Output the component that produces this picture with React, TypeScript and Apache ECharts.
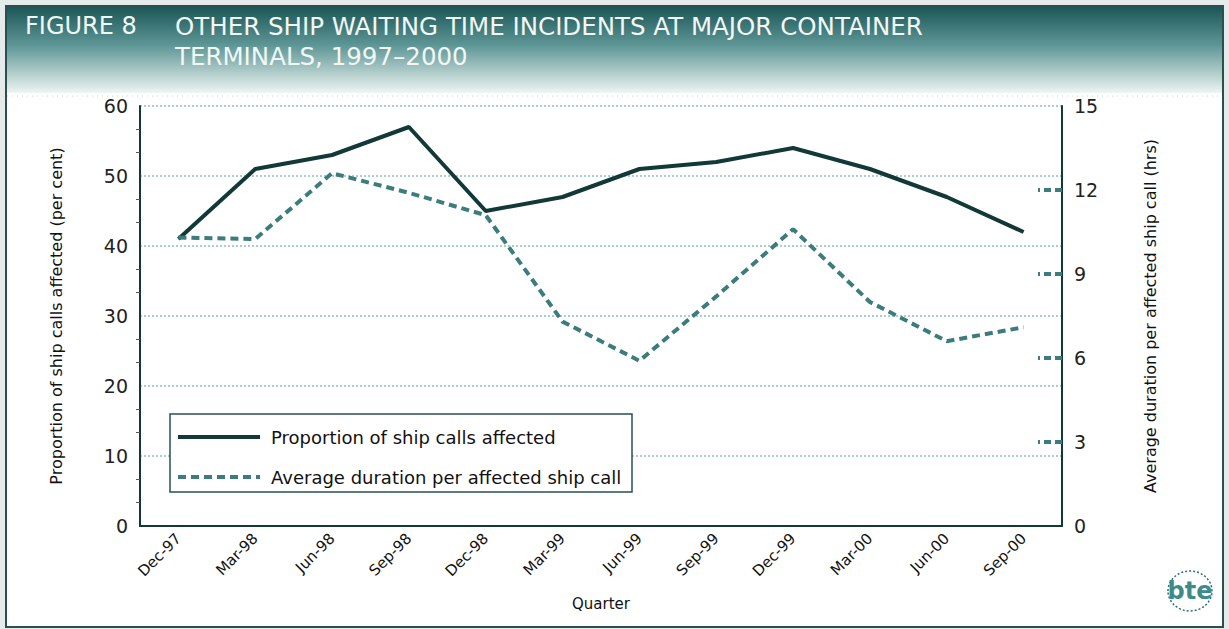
import React, { useEffect, useRef } from "react";
import * as echarts from "echarts";

const quarters = ["Dec-97", "Mar-98", "Jun-98", "Sep-98", "Dec-98", "Mar-99", "Jun-99", "Sep-99", "Dec-99", "Mar-00", "Jun-00", "Sep-00"];
const proportion = [41, 51, 53, 57, 45, 47, 51, 52, 54, 51, 47, 42];
const duration = [10.3, 10.25, 12.6, 11.9, 11.1, 7.3, 5.9, 8.2, 10.6, 8.0, 6.6, 7.1];
const leftTicks = [0, 60, 10];
const rightTicks = [0, 15, 3];
const rightStubValues = [3, 6, 9, 12];

const FONT = "'DejaVu Sans', sans-serif";
const DARK = "#123838";
const TEAL = "#3c7c7c";

export default function App() {
  const ref = useRef<HTMLDivElement>(null);
  useEffect(() => {
    if (!ref.current) return;
    const chart = echarts.init(ref.current, null, { renderer: "svg" });
    chart.setOption({
      animation: false,
      backgroundColor: "#e5eaea",
      graphic: [
        { type: "rect", z: -10, shape: { x: 6, y: 6, width: 1217, height: 621 }, style: { fill: "#ffffff", stroke: "#2a4f4f", lineWidth: 2 } },
        {
          type: "rect", z: -9, shape: { x: 7, y: 7, width: 1215, height: 86 },
          style: {
            fill: new echarts.graphic.LinearGradient(0, 0, 0, 1, [
              { offset: 0, color: "#1c5656" },
              { offset: 0.45, color: "#5f9797" },
              { offset: 0.8, color: "#b9d3d0" },
              { offset: 1, color: "#eef5f3" },
            ]),
          },
        },
        { type: "line", z: -8, shape: { x1: 7, y1: 96, x2: 1222, y2: 96 }, style: { stroke: "#c8d0d0", lineWidth: 1, lineDash: [1, 4] } },
        { type: "text", x: 25, y: 14, style: { text: "FIGURE 8", fill: "#f2f7f4", font: `24px ${FONT}` } },
        { type: "text", x: 175, y: 14, style: { text: "OTHER SHIP WAITING TIME INCIDENTS AT MAJOR CONTAINER", fill: "#f2f7f4", font: `24.5px ${FONT}` } },
        { type: "text", x: 175, y: 44, style: { text: "TERMINALS, 1997–2000", fill: "#f2f7f4", font: `24.5px ${FONT}` } },
        { type: "rect", z: 3, shape: { x: 170, y: 414, width: 462, height: 78 }, style: { fill: "#ffffff", stroke: "#2a5050", lineWidth: 1.5 } },
        { type: "ellipse", shape: { cx: 1190, cy: 591, rx: 22, ry: 20 }, style: { fill: "none", stroke: "#2f6f6f", lineWidth: 1.5, lineDash: [2, 2] } },
        { type: "text", x: 1190, y: 591, style: { text: "bte", fill: "#3f8a8a", font: `bold 24px ${FONT}`, align: "center", verticalAlign: "middle" } },
      ],
      grid: { left: 140, right: 167, top: 106, bottom: 103, containLabel: false },
      legend: {
        left: 176,
        top: 428,
        orient: "vertical",
        itemWidth: 82,
        itemHeight: 12,
        itemGap: 22,
        padding: 0,
        itemStyle: { opacity: 0 },
        textStyle: { fontFamily: FONT, fontSize: 18, color: "#111", padding: [0, 0, 0, 6] },
        data: [
          { name: "Proportion of ship calls affected", lineStyle: { width: 4, color: DARK } },
          { name: "Average duration per affected ship call", lineStyle: { width: 4, color: TEAL, type: [8, 5] } },
        ],
      },
      xAxis: {
        type: "category",
        data: quarters,
        boundaryGap: true,
        name: "Quarter",
        nameLocation: "middle",
        nameGap: 70,
        nameTextStyle: { fontFamily: FONT, fontSize: 15, color: "#111" },
        axisLine: { lineStyle: { color: DARK, width: 2 } },
        axisTick: { inside: true, alignWithLabel: true, length: 9, lineStyle: { color: DARK, width: 1.5 } },
        axisLabel: { rotate: 45, fontFamily: FONT, fontSize: 15, color: "#111", margin: 10, interval: 0 },
      },
      yAxis: [
        {
          type: "value",
          min: leftTicks[0],
          max: leftTicks[1],
          interval: leftTicks[2],
          name: "Proportion of ship calls affected (per cent)",
          nameLocation: "middle",
          nameGap: 76,
          nameTextStyle: { fontFamily: FONT, fontSize: 16, color: "#111" },
          axisLine: { show: true, lineStyle: { color: DARK, width: 2 } },
          axisTick: { show: false },
          minorTick: { show: true, splitNumber: 3, length: 4, lineStyle: { color: "#555" } },
          axisLabel: { fontFamily: FONT, fontSize: 19, color: "#222", margin: 12 },
          splitLine: { show: true, lineStyle: { color: "#a9cfcb", type: [2, 2], width: 2 } },
        },
        {
          type: "value",
          min: rightTicks[0],
          max: rightTicks[1],
          interval: rightTicks[2],
          position: "right",
          name: "Average duration per affected ship call (hrs)",
          nameLocation: "middle",
          nameGap: 80,
          nameRotate: 90,
          nameTextStyle: { fontFamily: FONT, fontSize: 16, color: "#111" },
          axisLine: { show: true, lineStyle: { color: DARK, width: 2 } },
          axisTick: { show: true, inside: true, length: 24, customValues: rightStubValues, lineStyle: { color: TEAL, width: 4, type: [7, 4] } },
          axisLabel: { fontFamily: FONT, fontSize: 19, color: "#222", margin: 12 },
          splitLine: { show: false },
        },
      ],
      series: [
        {
          name: "Proportion of ship calls affected",
          type: "line",
          yAxisIndex: 0,
          data: proportion,
          showSymbol: false,
          symbol: "none",
          lineStyle: { color: DARK, width: 4 },
          itemStyle: { color: DARK },
          z: 2,
        },
        {
          name: "Average duration per affected ship call",
          type: "line",
          yAxisIndex: 1,
          data: duration,
          showSymbol: false,
          symbol: "none",
          lineStyle: { color: TEAL, width: 4, type: [8, 5] },
          itemStyle: { color: TEAL },
          z: 2,
        },
      ],
    });
    return () => chart.dispose();
  }, []);
  return <div ref={ref} style={{ position: "fixed", left: 0, top: 0, width: 1229, height: 629 }} />;
}
